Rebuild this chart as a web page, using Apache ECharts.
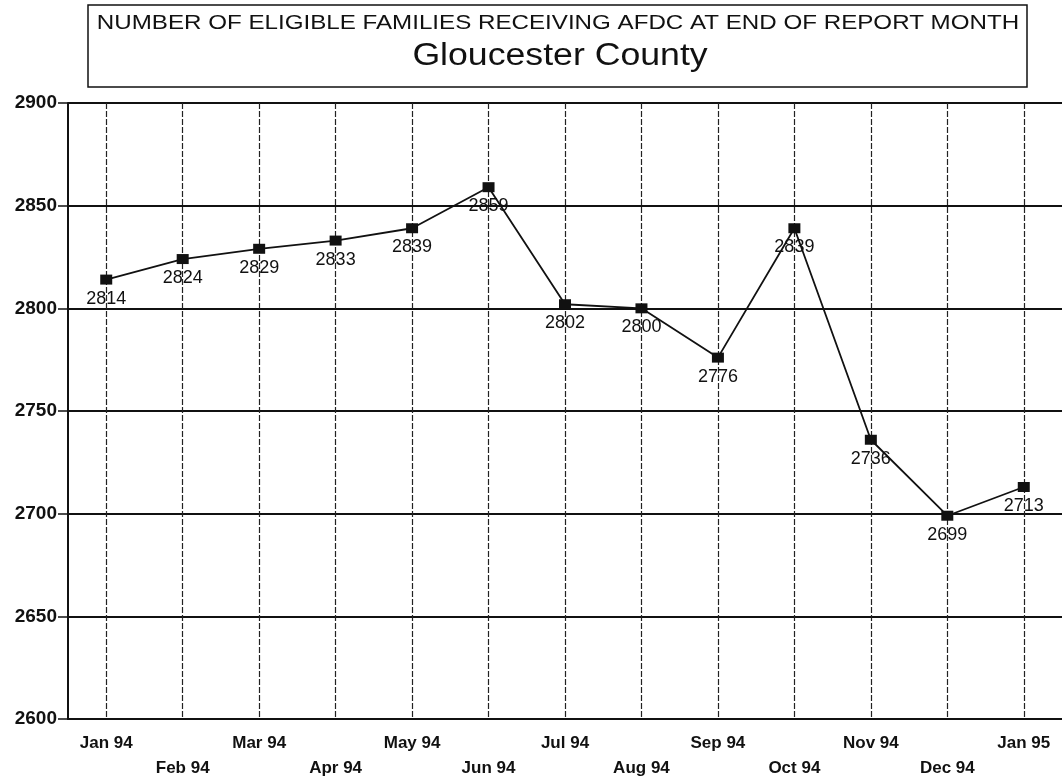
<!DOCTYPE html>
<html>
<head>
<meta charset="utf-8">
<script src="https://cdn.jsdelivr.net/npm/echarts@6/dist/echarts.min.js"></script>
<style>
  html, body { margin: 0; padding: 0; background: #fff; }
  #chart { width: 1062px; height: 781px; }
</style>
</head>
<body>
<div id="chart"></div>
<script>
const months = ['Jan 94', 'Feb 94', 'Mar 94', 'Apr 94', 'May 94', 'Jun 94', 'Jul 94',
  'Aug 94', 'Sep 94', 'Oct 94', 'Nov 94', 'Dec 94', 'Jan 95'];
const families = [2814, 2824, 2829, 2833, 2839, 2859, 2802, 2800, 2776, 2839, 2736, 2699, 2713];
const titleLine1 = 'NUMBER OF ELIGIBLE FAMILIES RECEIVING AFDC AT END OF REPORT MONTH';
const titleLine2 = 'Gloucester County';

const chart = echarts.init(document.getElementById('chart'));
const font = '"Liberation Sans", Arial, sans-serif';

const option = {
  backgroundColor: '#fff',
  animation: false,
  graphic: [
    {
      type: 'rect',
      shape: { x: 88, y: 5, width: 939, height: 82 },
      style: { fill: '#fff', stroke: '#111', lineWidth: 1.5 }
    },
    {
      type: 'text',
      x: 558, y: 23,
      scaleX: 1.15,
      style: { text: titleLine1, font: '21px ' + font, fill: '#111', align: 'center', verticalAlign: 'middle' }
    },
    {
      type: 'text',
      x: 560, y: 56,
      scaleX: 1.15,
      style: { text: titleLine2, font: '31px ' + font, fill: '#111', align: 'center', verticalAlign: 'middle' }
    }
  ],
  grid: { left: 68, top: 103, width: 1001, height: 616 },
  xAxis: {
    type: 'category',
    data: months,
    boundaryGap: true,
    axisLine: { lineStyle: { color: '#111', width: 2 } },
    axisTick: { alignWithLabel: true, length: 8, lineStyle: { color: '#111', width: 1.5 } },
    axisLabel: {
      interval: 0,
      margin: 12,
      color: '#111',
      fontFamily: font,
      fontSize: 17,
      fontWeight: 'bold',
      lineHeight: 25,
      formatter: (v, i) => (i % 2 === 1 ? '\n' + v : v)
    },
    splitLine: {
      show: true,
      alignWithLabel: true,
      lineStyle: { color: '#222', width: 1.2, type: [6, 2] }
    }
  },
  yAxis: {
    type: 'value',
    min: 2600,
    max: 2900,
    interval: 50,
    axisLine: { show: true, lineStyle: { color: '#111', width: 2 } },
    axisTick: { show: true, length: 10, lineStyle: { color: '#111', width: 1.5 } },
    axisLabel: {
      margin: 11,
      color: '#111',
      fontFamily: font,
      fontSize: 19,
      fontWeight: 'bold',
      formatter: v => String(v)
    },
    splitLine: { lineStyle: { color: '#111', width: 2 } }
  },
  series: [{
    type: 'line',
    data: families,
    symbol: 'rect',
    symbolSize: [12, 10],
    itemStyle: { color: '#111' },
    lineStyle: { color: '#111', width: 1.8 },
    label: {
      show: true,
      position: 'bottom',
      distance: 5,
      color: '#111',
      fontFamily: font,
      fontSize: 18
    }
  }]
};

chart.setOption(option);
</script>
</body>
</html>
